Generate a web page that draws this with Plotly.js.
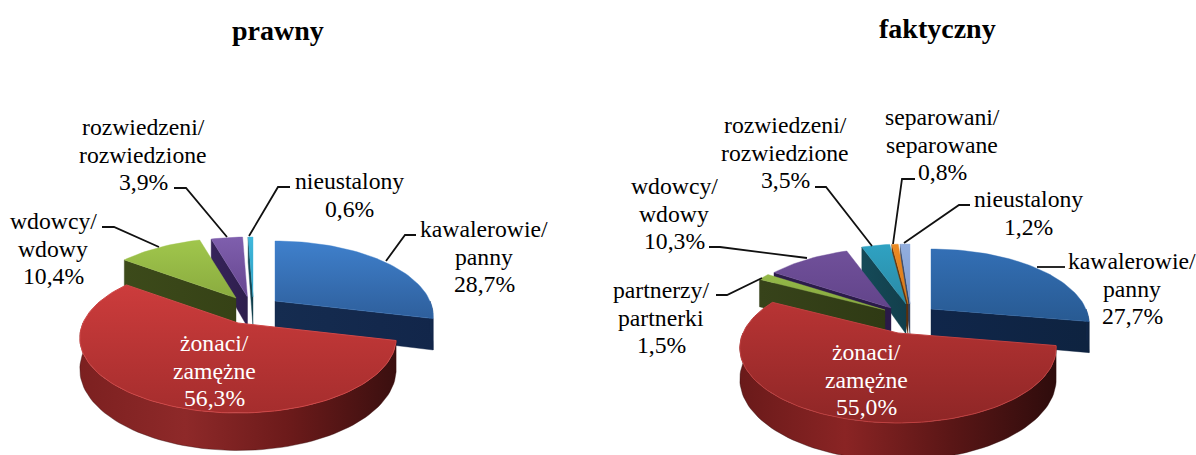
<!DOCTYPE html>
<html><head><meta charset="utf-8">
<script src="https://cdn.plot.ly/plotly-3.0.1.min.js"></script>
<style>html,body{margin:0;padding:0;background:#fff;overflow:hidden}#c{width:1196px;height:455px}</style>
</head><body><div id="c"></div>
<script>
// ---- data ----
const categoriesLeft = ['kawalerowie/\npanny','żonaci/\nzamężne','wdowcy/\nwdowy','rozwiedzeni/\nrozwiedzione','nieustalony'];
const valuesLeft = [28.7,56.3,10.4,3.9,0.6];
const categoriesRight = ['kawalerowie/\npanny','żonaci/\nzamężne','partnerzy/\npartnerki','wdowcy/\nwdowy','rozwiedzeni/\nrozwiedzione','separowani/\nseparowane','nieustalony'];
const valuesRight = [27.7,55.0,1.5,10.3,3.5,0.8,1.2];
const titleLeft = 'prawny', titleRight = 'faktyczny';

// ---- geometry of the tilted, exploded pie ----
const A = 155, B = 72, K = 0.2, D = 30;
const apexLeft  = [[275,301],[238,323],[236,298],[247.5,297],[253,297]];
const apexRight = [[931,309],[898,333],[885,310],[891,308],[906,304],[908,304],[910,304]];
// painter's order (back to front)
const orderLeft  = [4,3,2,0,1];
const orderRight = [6,5,4,3,2,0,1];

// ---- styles ----
const stylesLeft = [
  {top:['#2e5f9c','#3f80cc'],wall:['#152c50','#12264a']},
  {top:['#a52d2d','#cc3c3c'],wall:['#7c2020','#8e2929','#6b1a1a','#3a0f0f'],rim:'#d04848'},
  {top:['#8aab3f','#a0c64c'],wall:['#3c4a1a','#364216']},
  {top:['#664690','#7f5fad'],wall:['#36235a','#2e1e4c']},
  {top:['#2a9cc0','#40b8dc'],wall:['#14505f','#123f4c']}
];
const stylesRight = [
  {top:['#285a92','#336fb5'],wall:['#10264a','#0e2340']},
  {top:['#8e2626','#b83434'],wall:['#6a1a1a','#8a2424','#5a1616','#2e0c0c'],rim:'#c04040'},
  {top:['#86a83e','#94b848'],wall:['#37431a','#2f3a14']},
  {top:['#62448a','#70509a'],wall:['#2c1c4a','#2a1a48']},
  {top:['#2a8aa6','#2fa2c2'],wall:['#154a58','#123f4c']},
  {top:['#d8781a','#ec8a22'],wall:['#6e3a0c','#5a2f0a']},
  {top:['#7f9ccf','#92aede'],wall:['#3f5070','#34435f']}
];
const labelFont = 'Liberation Serif, Times New Roman, serif';
const labelsLeft = [[484,229],[214,343],[53,221],[143,127],[349,181]];
const labelsRight = [[1132,261],[866,352],[661,290],[674,186],[785,125],[942,117],[1028,199]];
const lineHeight = 27.5, labelSize = 23.7;
const leaders = [
 [[416,235],[405,235],[386,261]],[[102,227],[114,227],[159,247]],[[174,188],[186,188],[227,237]],[[290,187],[278,187],[249,236]],
 [[1065,267],[1037,267]],[[716,295],[727,295],[762,278]],[[709,247],[720,247],[807,258]],[[815,187],[826,187],[872,246]],
 [[915,179],[902,179],[893,244]],[[970,205],[959,205],[904,243]]
];

const rad = d => d*Math.PI/180;
function proj(ap, th){
  const X = Math.sin(rad(th)), Y = Math.cos(rad(th)), d = 1+K*Y;
  return {x: ap[0]+X*A/d, y: ap[1]-Y*B/d, dep: D/d};
}
function arc(s,e){ const out=[]; const n=Math.max(1,Math.ceil((e-s)/2)); for(let i=0;i<=n;i++) out.push(s+(e-s)*i/n); return out; }
function scale(cols){ return cols.map((c,i)=>[i/(cols.length-1),c]); }
function poly(xs,ys,cols,type,line){
  return {type:'scatter',mode:'lines',x:xs.concat(xs[0]),y:ys.concat(ys[0]),fill:'toself',hoverinfo:'skip',showlegend:false,
    fillcolor:cols[0],fillgradient:{type:type,colorscale:scale(cols)},
    line:{color:line||cols[cols.length-1],width:line?1:0.4}};
}
function pieTraces(values,apexes,order,styles){
  const tot = values.reduce((a,b)=>a+b,0); let c=0; const angs=values.map(v=>{const s=c;c+=v;return [s/tot*360,c/tot*360];});
  const tr=[];
  order.forEach(i=>{
    const [s,e]=angs[i], ap=apexes[i], st=styles[i];
    const ax=ap[0], ay=ap[1], ad=D;
    // radial walls facing the viewer
    if(Math.sin(rad(s))<0){ const p=proj(ap,s); tr.push(poly([p.x,ax,ax,p.x],[p.y,ay,ay+ad,p.y+p.dep],st.wall,'horizontal')); }
    if(Math.sin(rad(e))>0){ const p=proj(ap,e); tr.push(poly([ax,p.x,p.x,ax],[ay,p.y,p.y+p.dep,ay+ad],st.wall,'horizontal')); }
    // curved outer wall (front half only)
    const ws=Math.max(s,90), we=Math.min(e,270);
    if(we>ws){ const a=arc(ws,we).map(t=>proj(ap,t)); const xs=a.map(p=>p.x).concat(a.slice().reverse().map(p=>p.x));
      const ys=a.map(p=>p.y).concat(a.slice().reverse().map(p=>p.y+p.dep));
      tr.push(poly(xs,ys,st.wall,'horizontal')); }
    // top face
    const a=arc(s,e).map(t=>proj(ap,t));
    tr.push(poly([ax].concat(a.map(p=>p.x)),[ay].concat(a.map(p=>p.y)),st.top,'vertical',st.rim));
  });
  return tr;
}
const traces=[].concat(pieTraces(valuesLeft,apexLeft,orderLeft,stylesLeft),pieTraces(valuesRight,apexRight,orderRight,stylesRight));
leaders.forEach(l=>traces.push({type:'scatter',mode:'lines',x:l.map(p=>p[0]),y:l.map(p=>p[1]),hoverinfo:'skip',showlegend:false,line:{color:'#111',width:1.8}}));

const pct=v=>v.toFixed(1).replace('.',',')+'%';
const ann=[];
function addLabels(cats,vals,pos,whiteIdx){
  cats.forEach((c,i)=>{
    c.split('\n').concat(pct(vals[i])).forEach((t,j)=>ann.push({x:pos[i][0],y:pos[i][1]+j*lineHeight,xref:'x',yref:'y',text:t,showarrow:false,xanchor:'center',yanchor:'middle',
      font:{family:labelFont,size:labelSize,color:i===whiteIdx?'#fff':'#000'}}));
  });
}
addLabels(categoriesLeft,valuesLeft,labelsLeft,1);
addLabels(categoriesRight,valuesRight,labelsRight,1);
ann.push({x:278,y:30,xref:'x',yref:'y',text:'<b>'+titleLeft+'</b>',showarrow:false,font:{family:labelFont,size:28,color:'#000'}});
ann.push({x:937,y:28,xref:'x',yref:'y',text:'<b>'+titleRight+'</b>',showarrow:false,font:{family:labelFont,size:28,color:'#000'}});

Plotly.newPlot('c',traces,{width:1196,height:455,margin:{l:0,r:0,t:0,b:0},paper_bgcolor:'#fff',plot_bgcolor:'#fff',showlegend:false,
  xaxis:{range:[0,1196],visible:false,fixedrange:true},yaxis:{range:[455,0],visible:false,fixedrange:true},annotations:ann},{displayModeBar:false,staticPlot:true});
</script></body></html>
